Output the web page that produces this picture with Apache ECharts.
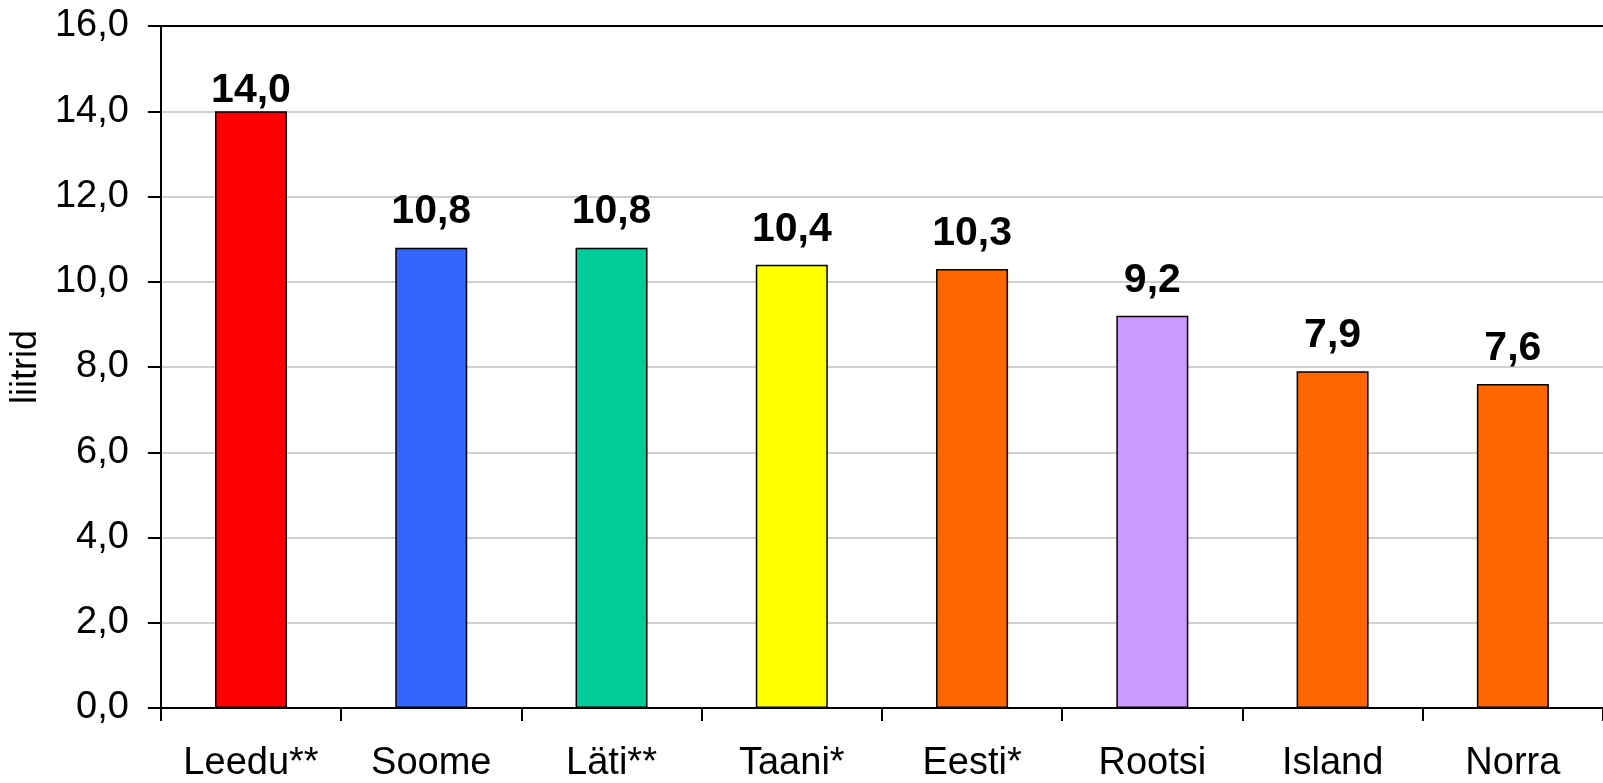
<!DOCTYPE html>
<html>
<head>
<meta charset="utf-8">
<script src="https://cdn.jsdelivr.net/npm/echarts@6/dist/echarts.min.js"></script>
<style>
html,body{margin:0;padding:0;background:#fff;overflow:hidden;}
#chart{width:1603px;height:783px;overflow:hidden;}
</style>
</head>
<body>
<div id="chart"></div>
<script>
const categories = ['Leedu**', 'Soome', 'Läti**', 'Taani*', 'Eesti*', 'Rootsi', 'Island', 'Norra'];
const values = [14.0, 10.8, 10.8, 10.4, 10.3, 9.2, 7.9, 7.6];
const barColors = ['#FF0000', '#3366FF', '#00CC99', '#FFFF00', '#FF6600', '#CC99FF', '#FF6600', '#FF6600'];
const yAxisName = 'liitrid';
const yMin = 0, yMax = 16, yStep = 2;

const FONT = '"Liberation Sans", Arial, sans-serif';
const fmt = v => Number(v).toFixed(1).replace('.', ',');

const chart = echarts.init(document.getElementById('chart'), null, {renderer: 'canvas', width: 1603, height: 783});
chart.setOption({
  animation: false,
  backgroundColor: '#ffffff',
  grid: {left: 160.7, width: 1458, top: 26, height: 685, containLabel: false},
  xAxis: [{
    type: 'category',
    data: categories,
    position: 'bottom',
    axisLine: {lineStyle: {color: '#000', width: 2}},
    axisTick: {show: true, length: 13, alignWithLabel: false, lineStyle: {color: '#000', width: 2}},
    axisLabel: {color: '#000', fontSize: 38, fontFamily: FONT, margin: 37, interval: 0},
    splitLine: {show: false}
  }, {
    type: 'category',
    data: categories,
    position: 'top',
    axisLine: {show: true, lineStyle: {color: '#000', width: 2}},
    axisTick: {show: false},
    axisLabel: {show: false},
    splitLine: {show: false}
  }],
  yAxis: {
    type: 'value',
    min: yMin, max: yMax, interval: yStep,
    name: yAxisName,
    nameLocation: 'middle',
    nameGap: 105,
    nameTextStyle: {color: '#000', fontSize: 36, fontFamily: FONT},
    axisLine: {show: true, lineStyle: {color: '#000', width: 2}},
    axisTick: {show: true, length: 13, lineStyle: {color: '#000', width: 2}},
    axisLabel: {color: '#000', fontSize: 38, fontFamily: FONT, margin: 32, formatter: fmt},
    splitLine: {show: true, lineStyle: {color: '#C0C0C0', width: 1.7}}
  },
  series: [{
    type: 'bar',
    xAxisIndex: 0,
    data: values.map((v, i) => {
      const d = {value: v, itemStyle: {color: barColors[i]}};
      if (i === 0) d.label = {distance: 0};
      return d;
    }),
    barWidth: 72,
    itemStyle: {borderColor: '#000', borderWidth: 1.5},
    label: {
      show: true, position: 'top', distance: 15,
      color: '#000', fontSize: 41, fontWeight: 'bold', fontFamily: FONT,
      formatter: p => fmt(p.value)
    }
  }]
});
</script>
</body>
</html>
